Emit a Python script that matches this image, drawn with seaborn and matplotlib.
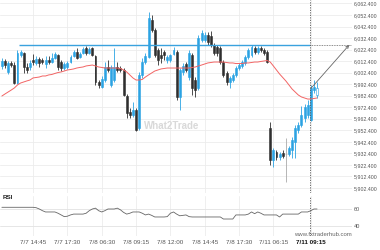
import numpy as np
import pandas as pd
import matplotlib
matplotlib.use("Agg")
import matplotlib.pyplot as plt
import seaborn as sns

opens = [6008.2, 6012.5, 6003.0, 6010.8, 6009.0, 5993.4, 6017.7, 6019.4, 6007.3, 6007.3,
         6013.4, 6010.8, 6014.2, 6013.4, 6009.9, 6013.4, 6011.6, 6015.1, 6017.7, 6011.6,
         6006.4, 6007.3, 6011.6, 6016.8, 6020.3, 6016.0, 6019.4, 6023.8, 6019.4, 6023.8,
         6016.8, 5994.3, 5989.9, 5996.0, 6007.3, 5991.7, 5996.0, 6007.3, 6006.4, 6004.7,
         5982.1, 5968.3, 5965.7, 5970.0, 5954.4, 6000.4, 6011.6, 6016.0, 6048.1, 6039.4,
         6022.0, 6017.7, 6020.3, 6013.4, 6013.4, 6018.6, 6020.3, 5981.3, 6003.0, 6009.9,
         5998.6, 6017.7, 5996.0, 5989.1, 6030.7, 6030.7, 6035.0, 6034.2, 6026.4, 6024.6,
         6023.8, 6011.6, 6002.1, 5994.3, 5996.0, 6000.4, 6006.4, 6008.2, 6010.8, 6016.0,
         6017.7, 6023.8, 6020.3, 6023.8, 6022.0, 6020.3, 5954.4, 5926.6, 5933.6, 5929.2,
         5932.7, 5931.4, 5931.8, 5935.3, 5942.2, 5952.7, 5957.0, 5963.1, 5965.7, 5961.3,
         5987.3, 5983.0]
highs = [6015.1, 6014.2, 6012.5, 6012.5, 6011.6, 6022.0, 6022.0, 6020.3, 6010.8, 6013.4,
         6018.6, 6016.8, 6016.0, 6015.1, 6016.8, 6016.8, 6019.4, 6020.3, 6018.6, 6013.4,
         6011.6, 6012.5, 6017.7, 6022.0, 6023.8, 6020.3, 6024.6, 6025.5, 6024.6, 6024.6,
         6017.7, 5996.0, 5999.5, 6011.6, 6013.4, 6009.0, 6023.8, 6011.6, 6008.2, 6006.4,
         5983.9, 5971.7, 5976.9, 5971.7, 6003.0, 6015.1, 6019.4, 6055.0, 6052.4, 6041.1,
         6023.8, 6023.8, 6022.0, 6017.7, 6018.6, 6024.6, 6022.0, 6006.4, 6010.8, 6011.6,
         6022.0, 6019.4, 5998.6, 6035.0, 6039.4, 6037.6, 6037.6, 6038.5, 6028.1, 6026.4,
         6025.5, 6013.4, 6003.8, 5999.5, 6002.1, 6008.2, 6010.8, 6013.4, 6017.7, 6023.8,
         6026.4, 6025.5, 6025.5, 6025.5, 6023.8, 6022.0, 5959.6, 5937.0, 5935.3, 5933.6,
         5935.3, 5945.7, 5938.8, 5946.6, 5957.0, 5959.6, 5973.5, 5975.2, 5978.7, 5991.7,
         5996.0, 5994.3]
lows = [6005.6, 6006.4, 6001.2, 6007.3, 5992.6, 5992.6, 6016.0, 6002.1, 6002.1, 6004.7,
        6009.0, 6009.0, 6007.3, 6009.9, 6006.4, 6009.9, 6010.8, 6014.2, 6004.7, 6003.8,
        6004.7, 6005.6, 6010.8, 6016.0, 6014.2, 6015.1, 6018.6, 6017.7, 6018.6, 6016.8,
        5991.7, 5989.1, 5989.1, 5994.3, 6003.0, 5989.9, 5994.3, 6003.0, 6003.0, 5982.1,
        5963.1, 5963.1, 5963.9, 5951.8, 5952.7, 5997.8, 6009.9, 6015.1, 6037.6, 6016.0,
        6009.0, 6010.8, 6013.4, 6010.8, 6011.6, 6017.7, 5978.7, 5970.0, 6000.4, 6003.0,
        5996.0, 5983.0, 5981.3, 5987.3, 6029.0, 6029.0, 6026.4, 6024.6, 6017.7, 6016.8,
        6009.9, 5998.6, 5991.7, 5989.1, 5994.3, 5998.6, 6004.7, 6006.4, 6009.0, 6014.2,
        6016.0, 6018.6, 6018.6, 6020.3, 6017.7, 6010.8, 5922.3, 5920.6, 5926.6, 5926.6,
        5928.4, 5907.6, 5930.1, 5928.4, 5928.4, 5950.1, 5955.3, 5959.6, 5963.1, 5960.5,
        5984.7, 5980.4]
closes = [6012.5, 6009.0, 6010.8, 6009.0, 5993.4, 6019.4, 6020.3, 6007.3, 6004.7, 6010.8,
          6011.6, 6014.2, 6010.8, 6011.6, 6013.4, 6011.6, 6015.1, 6018.6, 6007.3, 6006.4,
          6009.9, 6010.8, 6016.0, 6020.3, 6015.1, 6018.6, 6022.9, 6019.4, 6022.9, 6017.7,
          5994.3, 5991.7, 5996.9, 6007.3, 6004.7, 6007.3, 6007.3, 6004.7, 6004.7, 5983.0,
          5967.4, 5965.7, 5970.0, 5952.7, 6000.4, 6011.6, 6016.8, 6049.8, 6039.4, 6017.7,
          6013.4, 6015.1, 6017.7, 6016.0, 6017.7, 6022.0, 5981.3, 6004.7, 6008.2, 6004.7,
          6019.4, 5989.1, 5987.3, 6032.4, 6036.8, 6035.0, 6029.0, 6026.4, 6019.4, 6019.4,
          6011.6, 6000.4, 5994.3, 5997.8, 6000.4, 6006.4, 6009.0, 6011.6, 6016.0, 6022.0,
          6024.6, 6020.3, 6023.8, 6022.0, 6019.4, 6011.6, 5926.6, 5935.3, 5929.2, 5931.8,
          5930.1, 5931.4, 5937.0, 5944.0, 5954.4, 5957.0, 5965.7, 5972.6, 5974.3, 5989.1,
          5989.9, 5989.1]
ma_values = [5982.1, 5983.9, 5985.6, 5987.3, 5989.1, 5991.7, 5993.4, 5994.3, 5995.2, 5996.0,
             5997.8, 5998.2, 5998.6, 5999.5, 5999.5, 6000.4, 6000.8, 6001.7, 6002.5, 6003.0,
             6003.8, 6004.7, 6005.1, 6005.6, 6006.4, 6006.9, 6007.3, 6008.2, 6008.6, 6009.0,
             6008.2, 6007.3, 6006.9, 6006.4, 6006.4, 6006.4, 6006.4, 6006.4, 6006.0, 6004.7,
             6003.0, 6000.4, 5997.8, 5996.0, 5996.0, 5996.5, 5998.6, 6000.4, 6002.1, 6003.8,
             6004.7, 6005.6, 6006.0, 6006.4, 6006.4, 6006.4, 6006.4, 6006.4, 6006.4, 6006.4,
             6006.4, 6006.9, 6007.3, 6008.2, 6009.0, 6009.9, 6010.8, 6011.2, 6011.6, 6011.6,
             6011.6, 6011.6, 6011.2, 6010.8, 6010.8, 6010.3, 6010.3, 6010.3, 6010.8, 6010.8,
             6011.2, 6011.6, 6011.6, 6012.1, 6012.5, 6012.9, 6011.6, 6008.2, 6004.7, 6001.2,
             5998.2, 5995.2, 5991.7, 5988.2, 5985.6, 5983.0, 5981.3, 5980.4, 5979.5, 5979.5,
             5980.0, 5980.4]
rsi_values = [62, 62, 62, 62, 62, 62, 62, 62, 62, 62,
              62, 61.5, 60, 58, 56.5, 56.5, 56.5, 56.5, 55, 53,
              51, 51.5, 53, 54, 54, 54, 54, 55, 58, 60,
              61, 58, 56.5, 58, 60, 60, 60, 61, 59, 56,
              54, 55, 56.5, 56.5, 56.5, 55, 53, 54, 52.5, 50.6,
              50.6, 50.6, 50.6, 51, 55, 56.5, 54, 52, 52.5, 53,
              51, 50.6, 50.6, 50.6, 50.6, 50.6, 50.6, 50.6, 50.6, 50.6,
              50.6, 48.2, 48.2, 48.2, 48.2, 53, 53, 53, 53, 54,
              56.5, 54.5, 56.5, 55, 53, 53, 53, 53, 53, 50.6,
              54, 54, 54, 54, 54, 54, 56.5, 56.5, 56.5, 58,
              60, 60]
tick_idx = [10, 21, 32, 43, 54, 65, 76, 87, 99]
tick_labels = ["7/7 14:45", "7/7 17:30", "7/8 06:30", "7/8 09:15", "7/8 12:00",
               "7/8 14:45", "7/8 17:30", "7/11 06:15", "7/11 09:15"]
resistance = 6026.4
price_ticks = [5902.4, 5912.4, 5922.4, 5932.4, 5942.4, 5952.4, 5962.4, 5972.4, 5982.4,
               5992.4, 6002.4, 6012.4, 6022.4, 6032.4, 6042.4, 6052.4, 6062.4]
rsi_ticks = [40, 60]

n = len(closes)
df = pd.DataFrame({"i": np.arange(n), "open": opens, "high": highs, "low": lows,
                   "close": closes, "ma": ma_values[:n], "rsi": rsi_values[:n]})

sns.set_theme(style="white")
plt.rcParams["font.family"] = ["Liberation Sans", "DejaVu Sans"]

BLUE = "#2ba3e3"
DARK = "#2f2f2f"
GRID = "#ececec"
TXT = "#555555"

fig = plt.figure(figsize=(3.8, 2.5), dpi=100)
ax = fig.add_axes([0.0, 0.228, 0.9263, 0.772])
ax2 = fig.add_axes([0.0, 0.056, 0.9263, 0.16], sharex=ax)

xmin, xmax = -0.6, 112.2
ax.set_xlim(xmin, xmax)
ax.set_ylim(5898.0, 6065.4)
ax2.set_ylim(28.2, 75.3)

for a in (ax, ax2):
    for s in a.spines.values():
        s.set_visible(False)
    a.set_facecolor("white")
    for t in tick_idx:
        a.axvline(t, color=GRID, lw=0.6, zorder=0)

for p in price_ticks:
    ax.axhline(p, color=GRID, lw=0.6, zorder=0)
for r in rsi_ticks:
    ax2.axhline(r, color="#e2e2e2", lw=0.6, zorder=0)

# candles
colors = []
for o, c in zip(df["open"], df["close"]):
    if c > o:
        colors.append(BLUE)
    elif c < o:
        colors.append(DARK)
    else:
        colors.append("#aaaaaa")
ax.vlines(df["i"], df["low"], df["high"], colors=colors, lw=0.6, zorder=2)
bottoms = np.minimum(df["open"], df["close"])
heights = np.maximum(np.abs(df["close"] - df["open"]), 0.6)
face = list(colors)
face[-1] = "white"
ax.bar(df["i"], heights, bottom=bottoms, width=0.62, color=face,
       edgecolor=colors, linewidth=0.4, zorder=3)

# moving average
sns.lineplot(data=df, x="i", y="ma", ax=ax, color="#f26464", lw=0.7, zorder=4)

# resistance line
cur = 98.8
ax.hlines(resistance, 5.5, cur, color="#3aa2de", lw=1.0, zorder=5)
ax.hlines(resistance, cur, xmax - 0.3, color="#666666", lw=0.6, linestyle=(0, (1, 1)), zorder=5)
ax.annotate("", xy=(111.3, resistance), xytext=(df["i"].iloc[99], df["close"].iloc[99] - 0.5),
            arrowprops=dict(arrowstyle="->", color="#666666", lw=0.6,
                            mutation_scale=5, shrinkA=0, shrinkB=0), zorder=6)

for a in (ax, ax2):
    a.axvline(cur, color="#555555", lw=0.6, linestyle=(0, (1.5, 1.5)), zorder=6)

# watermark
ax.text(54.3, 5956.0, "What2Trade", color="#d9d9d9", fontsize=7, fontweight="bold",
        ha="center", va="center", zorder=1)

# RSI
sns.lineplot(data=df, x="i", y="rsi", ax=ax2, color="#666666", lw=0.6, zorder=4)
ax2.text(0.2, 73.5, "RSI", fontsize=4.5, fontweight="bold", color="#222222",
         ha="left", va="center")
ax2.text(112.0, 29.5, "www.fxtraderhub.com", fontsize=4.3, color="#666666",
         ha="right", va="center")

ax.set_xlabel("")
ax.set_ylabel("")
ax2.set_xlabel("")
ax2.set_ylabel("")

ax.yaxis.tick_right()
ax.set_yticks(price_ticks)
ax.set_yticklabels([f"{p:,.3f}" for p in price_ticks])
ax.tick_params(axis="y", length=0, pad=1.6, labelsize=3.8, labelcolor=TXT)
ax.tick_params(axis="x", length=0, labelbottom=False)

ax2.yaxis.tick_right()
ax2.set_yticks(rsi_ticks)
ax2.set_yticklabels([str(r) for r in rsi_ticks])
ax2.tick_params(axis="y", length=0, pad=1.6, labelsize=4.0, labelcolor=TXT)
ax2.set_xticks(tick_idx)
ax2.set_xticklabels(tick_labels)
ax2.tick_params(axis="x", length=0, pad=3.0, labelsize=4.5, labelcolor=TXT)
lbls = ax2.get_xticklabels()
lbls[-1].set_color("#111111")
lbls[-1].set_fontweight("bold")

fig.savefig("out.png", dpi=100, facecolor="white")
